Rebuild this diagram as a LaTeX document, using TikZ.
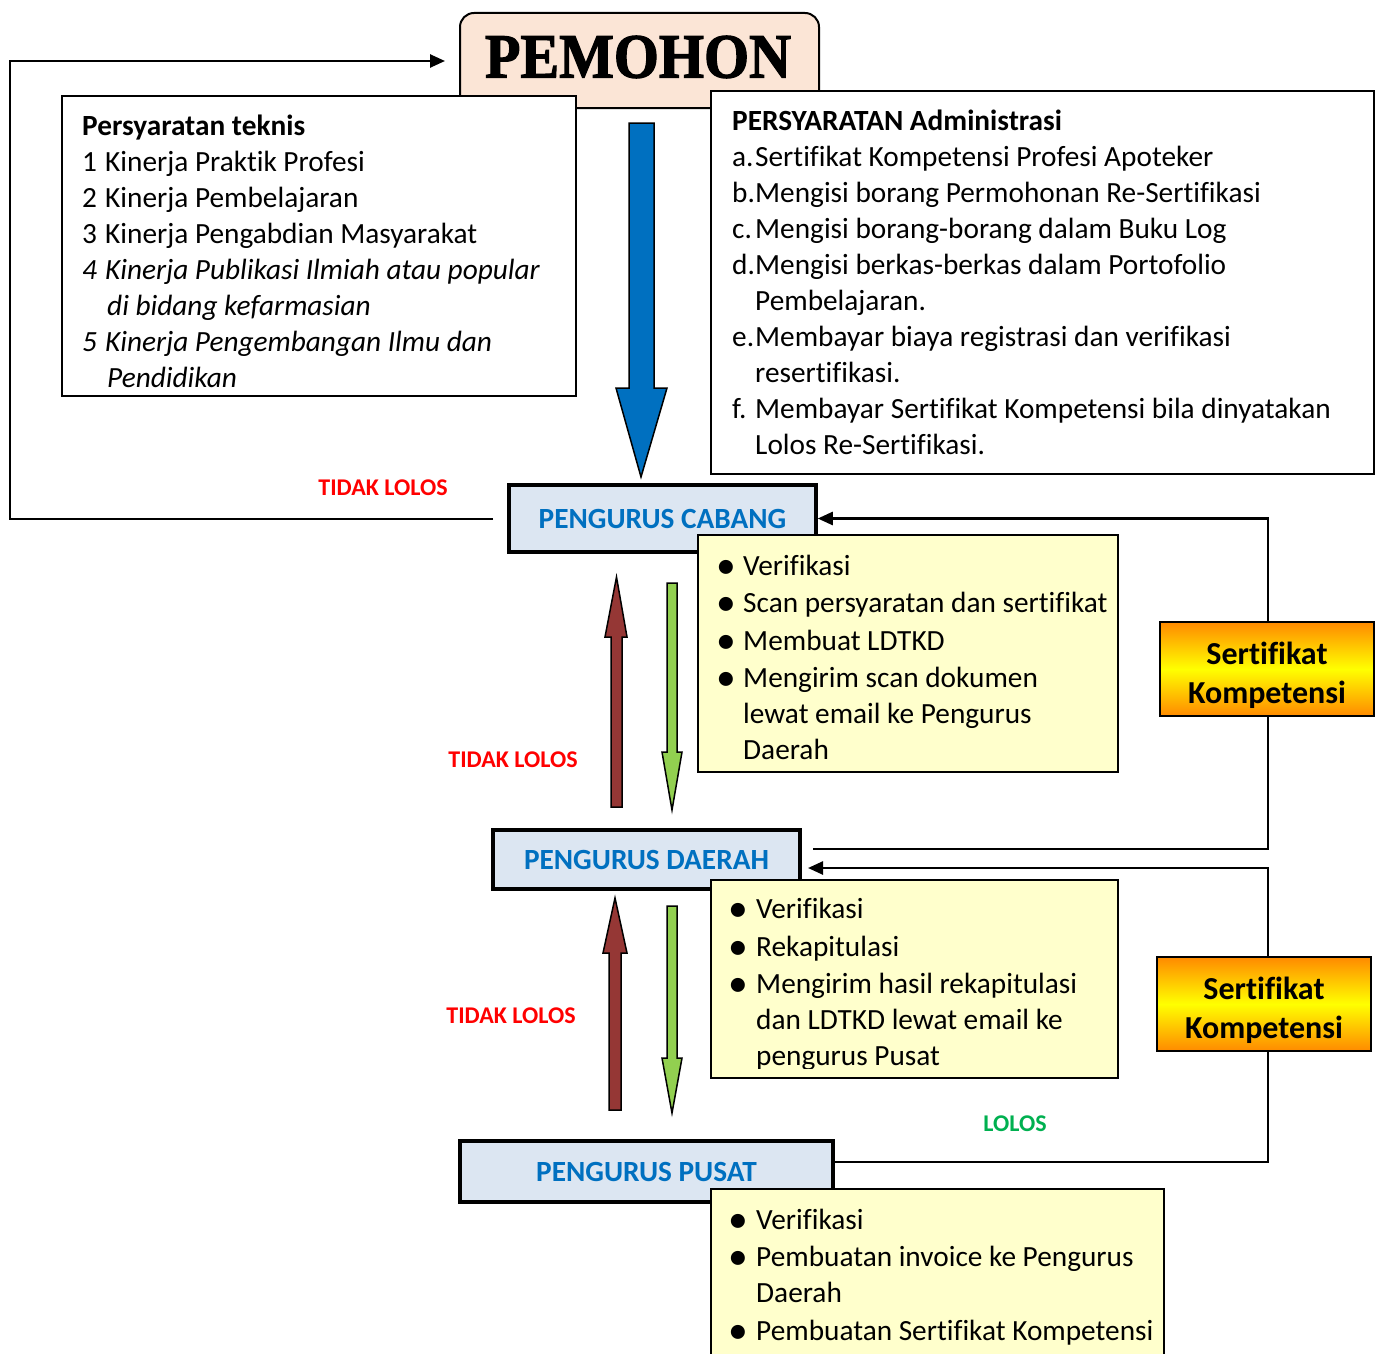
\documentclass[tikz,border=0pt]{standalone}
\usepackage{fontspec}
\usepackage{graphicx}
\usepackage{array}
\setmainfont{Carlito}[Ligatures={NoCommon,NoRequired,NoContextual}]
\newfontfamily\titlefont[BoldFeatures={FakeBold=2}]{Liberation Serif}
\usetikzlibrary{arrows.meta}
\definecolor{peach}{HTML}{FBE5D6}
\definecolor{lblue}{HTML}{DCE6F2}
\definecolor{pblue}{HTML}{0070C0}
\definecolor{lyellow}{HTML}{FFFFCC}
\definecolor{cred}{HTML}{953735}
\definecolor{cgreen}{HTML}{92D050}
\definecolor{lgreen}{HTML}{00B050}
\definecolor{certorange}{HTML}{FF8A00}
\newcommand\bul{\hspace{-3pt}\raisebox{-3pt}{\scalebox{1.35}{\textbullet}}}
\begin{document}
\begin{tikzpicture}[x=1pt,y=-1pt,
  conn/.style={line width=2.5pt},
  tipped/.style={-{Triangle[length=15pt,width=13pt]}},
  pbox/.style={draw, line width=3.5pt, fill=lblue, text=pblue, inner sep=0pt,
    font=\fontsize{29.3}{36}\selectfont\bfseries},
  ybox/.style={draw, line width=1.5pt, fill=lyellow, inner sep=0pt},
  listbox/.style={draw, line width=2pt, fill=white, inner sep=0pt},
  cert/.style={draw, line width=2pt, top color=certorange, bottom color=certorange,
    middle color=yellow, inner sep=0pt},
  certtext/.style={align=center, inner sep=0pt, font=\fontsize{32}{39}\selectfont\bfseries},
  blockarrow/.style={draw=black, line width=1.5pt},
  lbl/.style={inner sep=0pt, font=\fontsize{24}{29}\selectfont\bfseries},
  txt/.style={inner sep=0pt, anchor=base west, font=\fontsize{29.3}{36}\selectfont}]
\useasboundingbox (0,0) rectangle (1381,1354);

% PEMOHON
\node[draw, line width=2pt, fill=peach, rounded corners=14pt, inner sep=0pt,
  minimum width=359pt, minimum height=95pt] (pemohon) at (639.5,60.5) {};
\node[inner sep=0pt, font=\titlefont\bfseries\fontsize{63}{63}\selectfont] (pemohontext) at (638,57) {\scalebox{0.92}[1]{PEMOHON}};

% connector end points
\coordinate (cOut) at (493,519);
\coordinate (pIn) at (445,61);
\coordinate (dOut) at (813,849);
\coordinate (dIn) at (808,868);
\coordinate (pOut) at (833,1162);
\coordinate (rx) at (1268,0);

% list boxes
\node[listbox, minimum width=514pt, minimum height=300pt] (teknis) at (319,246) {};
\node[listbox, minimum width=663pt, minimum height=383pt] (admin) at (1042.5,282.5) {};

\node[txt] (teknistext) at (82,135) {\begin{tabular}[t]{@{}p{23pt}@{}l@{}}
\multicolumn{2}{@{}l@{}}{\bfseries Persyaratan teknis}\\
1 & Kinerja Praktik Profesi\\
2 & Kinerja Pembelajaran\\
3 & Kinerja Pengabdian Masyarakat\\
\itshape 4 & \itshape Kinerja Publikasi Ilmiah atau popular\\
 & \itshape \hspace{2pt}di bidang kefarmasian\\
\itshape 5 & \itshape Kinerja Pengembangan Ilmu dan\\
 & \itshape \hspace{2pt}Pendidikan
\end{tabular}};

\node[txt] (admintext) at (732,130) {\begin{tabular}[t]{@{}p{23pt}@{}l@{}}
\multicolumn{2}{@{}l@{}}{\bfseries PERSYARATAN Administrasi}\\
a. & Sertifikat Kompetensi Profesi Apoteker\\
b. & Mengisi borang Permohonan Re-Sertifikasi\\
c. & Mengisi borang-borang dalam Buku Log\\
d. & Mengisi berkas-berkas dalam Portofolio\\
 & Pembelajaran.\\
e. & Membayar biaya registrasi dan verifikasi\\
 & resertifikasi.\\
f. & Membayar Sertifikat Kompetensi bila dinyatakan\\
 & Lolos Re-Sertifikasi.
\end{tabular}};

% big blue arrow
\draw[blockarrow, fill=pblue] (629,123) -- (654,123) -- (654,388) -- (667,388) -- (641,477)
  -- (616,388) -- (629,388) -- cycle;

% pengurus boxes
\node[pbox, minimum width=307pt, minimum height=67pt] (cabang) at (662.5,518.5) {PENGURUS CABANG};
\node[pbox, minimum width=307pt, minimum height=59pt] (daerah) at (646.5,859.5) {PENGURUS DAERAH};
\node[pbox, minimum width=373pt, minimum height=61pt] (pusat) at (646.5,1171.5) {PENGURUS PUSAT};

% yellow boxes
\node[ybox, minimum width=420pt, minimum height=237pt] (y1) at (908,653.5) {};
\node[ybox, minimum width=407pt, minimum height=198pt] (y2) at (914.5,979) {};
\node[ybox, minimum width=453pt, minimum height=181pt] (y3) at (937.5,1279.5) {};

\node[txt] (y1text) at (719,575) {\begin{tabular}[t]{@{}p{24pt}@{}l@{}}
\bul & Verifikasi\\[1.5pt]
\bul & Scan persyaratan dan sertifikat\\[1.5pt]
\bul & Membuat LDTKD\\[1.5pt]
\bul & Mengirim scan dokumen\\
 & lewat email ke Pengurus\\
 & Daerah
\end{tabular}};

\begin{scope}
\clip (700,882) rectangle (1116,1068);
\node[txt] (y2text) at (731,918.5) {\begin{tabular}[t]{@{}p{25pt}@{}l@{}}
\bul & Verifikasi\\[1.5pt]
\bul & Rekapitulasi\\[1.5pt]
\bul & Mengirim hasil rekapitulasi\\
 & dan LDTKD lewat email ke\\
 & pengurus Pusat
\end{tabular}};
\end{scope}

\node[txt] (y3text) at (731,1229) {\begin{tabular}[t]{@{}p{25pt}@{}l@{}}
\bul & Verifikasi\\[1.5pt]
\bul & Pembuatan invoice ke Pengurus\\
 & Daerah\\[1.5pt]
\bul & Pembuatan Sertifikat Kompetensi
\end{tabular}};

% certificates
\node[cert, minimum width=214pt, minimum height=94pt] (cert1) at (1267,669) {};
\node[certtext] (cert1text) at (1267,675) {Sertifikat\\Kompetensi};
\node[cert, minimum width=214pt, minimum height=94pt] (cert2) at (1264,1004) {};
\node[certtext] (cert2text) at (1264,1010) {Sertifikat\\Kompetensi};

% connectors
\draw[conn, tipped] (cOut) -- (10,519) |- (pIn);
\draw[conn, tipped] (cert1.north -| rx) |- (cabang.east);
\draw[conn] (cert1.south -| rx) |- (dOut);
\draw[conn, tipped] (cert2.north -| rx) |- (dIn);
\draw[conn] (cert2.south -| rx) |- (pOut);

% red / green arrows
\draw[blockarrow, fill=cred] (611,807) -- (622,807) -- (622,637) -- (627,637) -- (616.5,577)
  -- (605,637) -- (611,637) -- cycle;
\draw[blockarrow, fill=cgreen] (667,583) -- (677,583) -- (677,752) -- (682,752) -- (672,810)
  -- (662,752) -- (667,752) -- cycle;
\draw[blockarrow, fill=cred] (609,1110) -- (621,1110) -- (621,953) -- (627,953) -- (615,898)
  -- (603,953) -- (609,953) -- cycle;
\draw[blockarrow, fill=cgreen] (667,906) -- (677,906) -- (677,1058) -- (682,1058) -- (672,1113)
  -- (662,1058) -- (667,1058) -- cycle;

% labels
\node[lbl, text=red] (tl1) at (383,488) {TIDAK LOLOS};
\node[lbl, text=red] (tl2) at (513,760) {TIDAK LOLOS};
\node[lbl, text=red] (tl3) at (511,1016) {TIDAK LOLOS};
\node[lbl, text=lgreen] (lolos) at (1015,1124) {LOLOS};
\end{tikzpicture}
\end{document}
